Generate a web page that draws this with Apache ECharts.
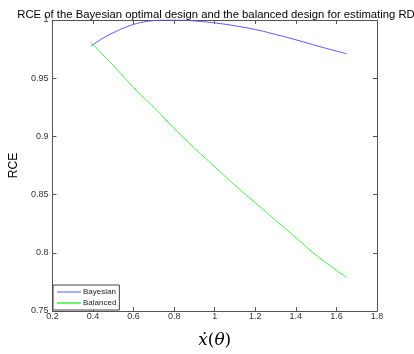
<!DOCTYPE html>
<html>
<head>
<meta charset="utf-8">
<script src="https://cdn.jsdelivr.net/npm/echarts@6/dist/echarts.min.js"></script>
<style>
  html, body { margin: 0; padding: 0; background: #fff; }
  #chart { width: 414px; height: 354px; }
</style>
</head>
<body>
<div id="chart"></div>
<script>
// Relative efficiency (RCE) of two designs versus the derivative x'(theta)
const bayesX = [0.39, 0.45, 0.5, 0.55, 0.6, 0.65, 0.7, 0.75, 0.8, 0.85, 0.9, 1.0, 1.1, 1.2, 1.3, 1.4, 1.5, 1.6, 1.65];
const bayesY = [0.9775, 0.9845, 0.989, 0.993, 0.9962, 0.9983, 0.9995, 1.0, 1.0, 0.9998, 0.9992, 0.9975, 0.995, 0.9918, 0.9876, 0.9830, 0.9780, 0.9733, 0.971];

const balancedX = [0.39, 0.45, 0.5, 0.6, 0.7, 0.8, 0.9, 1.0, 1.1, 1.2, 1.3, 1.4, 1.5, 1.6, 1.65];
const balancedY = [0.981, 0.970, 0.961, 0.942, 0.925, 0.907, 0.890, 0.874, 0.858, 0.843, 0.828, 0.813, 0.798, 0.785, 0.779];

const xTicks = [0.2, 0.4, 0.6, 0.8, 1, 1.2, 1.4, 1.6, 1.8];
const yTicks = [0.75, 0.8, 0.85, 0.9, 0.95, 1];

const pairs = (xs, ys) => xs.map((x, i) => [x, ys[i]]);

const chart = echarts.init(document.getElementById('chart'), null, { renderer: 'canvas' });

const frame = '#555';
const tickFont = { fontFamily: 'Liberation Sans, Arial, sans-serif', fontSize: 9, color: '#333' };

chart.setOption({
  animation: false,
  backgroundColor: '#fff',
  title: {
    text: 'RCE of the Bayesian optimal design and the balanced design for estimating RD',
    left: 211, top: 4, textAlign: 'center',
    textStyle: { fontFamily: 'Liberation Sans, Arial, sans-serif', fontSize: 11.3, fontWeight: 'normal', color: '#000' }
  },
  grid: { left: 49, right: 37, top: 20, bottom: 36, containLabel: false },
  legend: {
    data: ['Bayesian', 'Balanced'],
    orient: 'vertical',
    left: 53, top: 285,
    icon: 'rect',
    itemWidth: 24, itemHeight: 1.5,
    itemGap: 1,
    padding: [2, 3, 2, 4],
    borderColor: '#444', borderWidth: 1,
    backgroundColor: '#fff',
    textStyle: { fontFamily: 'Liberation Sans, Arial, sans-serif', fontSize: 8, lineHeight: 10, color: '#222', padding: [0, 0, 0, -3] }
  },
  xAxis: [
    {
      type: 'value', min: 0.2, max: 1.8, interval: 0.2,
      axisLine: { lineStyle: { color: frame } },
      axisTick: { inside: true, length: 4, lineStyle: { color: frame } },
      axisLabel: Object.assign({ margin: 1, formatter: v => String(+v.toFixed(1)) }, tickFont),
      splitLine: { show: false },
      name: '{d|ẋ}{p|(}{d|θ}{p|)}',
      nameLocation: 'middle', nameGap: 21,
      nameTextStyle: {
        rich: {
          d: { fontFamily: 'DejaVu Serif, Liberation Serif, serif', fontStyle: 'italic', fontSize: 17, color: '#000' },
          p: { fontFamily: 'DejaVu Serif, Liberation Serif, serif', fontSize: 17, color: '#000' }
        }
      }
    },
    {
      type: 'value', position: 'top', min: 0.2, max: 1.8, interval: 0.2,
      axisLine: { show: true, lineStyle: { color: frame } },
      axisTick: { inside: true, length: 4, lineStyle: { color: frame } },
      axisLabel: { show: false }, splitLine: { show: false }
    }
  ],
  yAxis: [
    {
      type: 'value', min: 0.75, max: 1, interval: 0.05,
      axisLine: { show: true, lineStyle: { color: frame } },
      axisTick: { inside: true, length: 4, lineStyle: { color: frame } },
      axisLabel: Object.assign({ margin: 4, formatter: v => String(+v.toFixed(2)) }, tickFont),
      splitLine: { show: false },
      name: 'RCE', nameLocation: 'middle', nameGap: 22, nameRotate: 90,
      nameTextStyle: { fontFamily: 'Liberation Sans, Arial, sans-serif', fontSize: 12, color: '#000' }
    },
    {
      type: 'value', position: 'right', min: 0.75, max: 1, interval: 0.05,
      axisLine: { show: true, lineStyle: { color: frame } },
      axisTick: { inside: true, length: 4, lineStyle: { color: frame } },
      axisLabel: { show: false }, splitLine: { show: false }
    }
  ],
  series: [
    {
      name: 'Bayesian', type: 'line', smooth: true, showSymbol: false,
      data: pairs(bayesX, bayesY),
      lineStyle: { color: '#5555ff', width: 1 }, itemStyle: { color: '#9090ff' }
    },
    {
      name: 'Balanced', type: 'line', smooth: true, showSymbol: false,
      data: pairs(balancedX, balancedY),
      lineStyle: { color: '#3ff03f', width: 1 }, itemStyle: { color: '#3ff03f' }
    }
  ]
});
</script>
</body>
</html>
